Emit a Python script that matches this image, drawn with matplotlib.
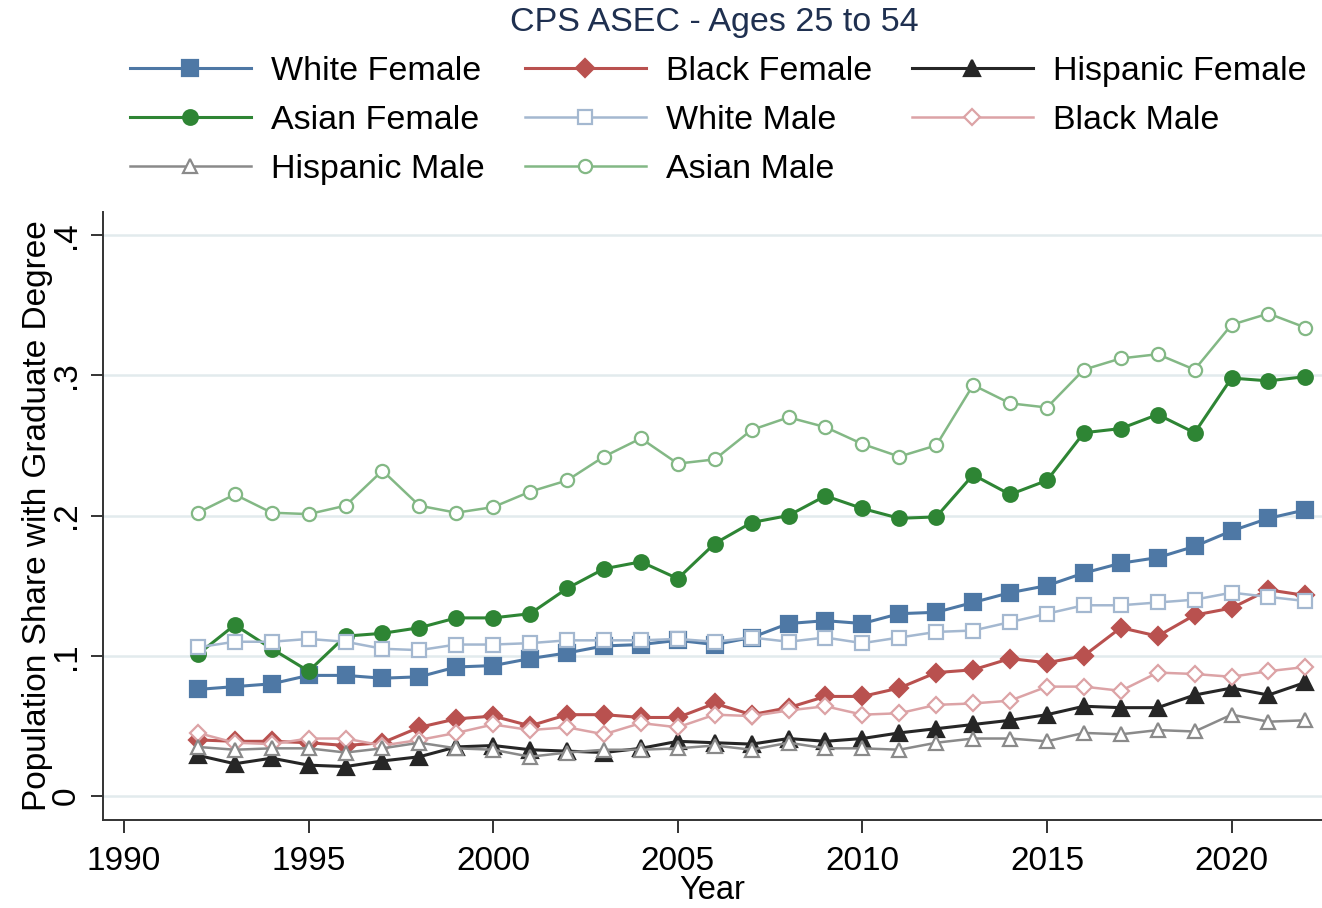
import numpy as np
import matplotlib.pyplot as plt
from matplotlib.ticker import FuncFormatter

plt.rcParams['font.family'] = ['Liberation Sans', 'DejaVu Sans']

years = np.arange(1992, 2023)

white_female = [0.076, 0.078, 0.080, 0.086, 0.086, 0.084, 0.085, 0.092, 0.093, 0.098,
                0.102, 0.107, 0.108, 0.111, 0.108, 0.113, 0.123, 0.125, 0.123, 0.130,
                0.131, 0.138, 0.145, 0.150, 0.159, 0.166, 0.170, 0.178, 0.189, 0.198, 0.204]
black_female = [0.040, 0.039, 0.039, 0.038, 0.036, 0.038, 0.049, 0.055, 0.057, 0.050,
                0.058, 0.058, 0.056, 0.056, 0.066, 0.058, 0.063, 0.071, 0.071, 0.077,
                0.088, 0.090, 0.098, 0.095, 0.100, 0.120, 0.114, 0.129, 0.134, 0.147, 0.143]
hispanic_female = [0.029, 0.023, 0.027, 0.022, 0.021, 0.025, 0.028, 0.035, 0.036, 0.033,
                   0.032, 0.031, 0.034, 0.039, 0.038, 0.037, 0.041, 0.039, 0.041, 0.045,
                   0.048, 0.051, 0.054, 0.058, 0.064, 0.063, 0.063, 0.072, 0.077, 0.072, 0.081]
asian_female = [0.101, 0.122, 0.105, 0.089, 0.114, 0.116, 0.120, 0.127, 0.127, 0.130,
                0.148, 0.162, 0.167, 0.155, 0.180, 0.195, 0.200, 0.214, 0.205, 0.198,
                0.199, 0.229, 0.215, 0.225, 0.259, 0.262, 0.272, 0.259, 0.298, 0.296, 0.299]
white_male = [0.106, 0.110, 0.110, 0.112, 0.110, 0.105, 0.104, 0.108, 0.108, 0.109,
              0.111, 0.111, 0.111, 0.112, 0.110, 0.113, 0.110, 0.113, 0.109, 0.113,
              0.117, 0.118, 0.124, 0.130, 0.136, 0.136, 0.138, 0.140, 0.145, 0.142, 0.139]
black_male = [0.045, 0.038, 0.037, 0.041, 0.041, 0.036, 0.040, 0.045, 0.051, 0.047,
              0.049, 0.044, 0.052, 0.049, 0.058, 0.057, 0.061, 0.064, 0.058, 0.059,
              0.065, 0.066, 0.068, 0.078, 0.078, 0.075, 0.088, 0.087, 0.085, 0.089, 0.092]
hispanic_male = [0.035, 0.033, 0.034, 0.034, 0.031, 0.034, 0.038, 0.034, 0.033, 0.028,
                 0.031, 0.033, 0.033, 0.034, 0.036, 0.033, 0.038, 0.034, 0.034, 0.033,
                 0.038, 0.041, 0.041, 0.039, 0.045, 0.044, 0.047, 0.046, 0.058, 0.053, 0.054]
asian_male = [0.202, 0.215, 0.202, 0.201, 0.207, 0.232, 0.207, 0.202, 0.206, 0.217,
              0.225, 0.242, 0.255, 0.237, 0.240, 0.261, 0.270, 0.263, 0.251, 0.242,
              0.250, 0.293, 0.280, 0.277, 0.304, 0.312, 0.315, 0.304, 0.336, 0.344, 0.334]

# label, values, color, marker, size, filled, line width
series = [
    ('White Female', white_female, '#4e78a5', 's', 11, True, 2.2),
    ('Black Female', black_female, '#b9514f', 'D', 9, True, 2.2),
    ('Hispanic Female', hispanic_female, '#262626', '^', 11, True, 2.2),
    ('Asian Female', asian_female, '#2e8534', 'o', 10.5, True, 2.2),
    ('White Male', white_male, '#a4b8d0', 's', 9.5, False, 1.8),
    ('Black Male', black_male, '#dca3a6', 'D', 8.5, False, 1.8),
    ('Hispanic Male', hispanic_male, '#8a8a8a', '^', 10, False, 1.8),
    ('Asian Male', asian_male, '#83b885', 'o', 9.5, False, 1.8),
]

fig = plt.figure(figsize=(13.22, 9.08), dpi=100)
ax = fig.add_axes([103 / 1322, 88 / 908, 1 - 103 / 1322, 608 / 908])

handles = {}
for label, vals, color, marker, ms, filled, lw in series:
    line, = ax.plot(years, vals, color=color, lw=lw, marker=marker, ms=ms,
                    markerfacecolor=color if filled else 'white',
                    markeredgecolor=color, markeredgewidth=1.6, label=label)
    handles[label] = line

ax.set_xlim(1989.43, 2022.45)
ax.set_ylim(-0.0171, 0.4164)
ax.set_xticks(range(1990, 2021, 5))
ax.set_yticks([0, 0.1, 0.2, 0.3, 0.4])
ax.yaxis.set_major_formatter(FuncFormatter(lambda v, p: '0' if v == 0 else f'{v:.1f}'.lstrip('0')))
ax.grid(axis='y', color='#e2ebed', lw=1.8)
ax.set_axisbelow(True)
for s in ['top', 'right']:
    ax.spines[s].set_visible(False)
for s in ['left', 'bottom']:
    ax.spines[s].set_linewidth(1.4)
    ax.spines[s].set_color('#333333')
ax.tick_params(axis='both', length=9, width=1.4, color='#333333', labelsize=24, pad=6)
ax.tick_params(axis='x', pad=10)
plt.setp(ax.get_yticklabels(), rotation=90, va='center')

ax.set_xlabel('Year', fontsize=23.5, labelpad=-1.5)
ax.set_ylabel('Population Share with Graduate Degree', fontsize=24, labelpad=-1)

fig.text(714 / 1322, 1 - 22 / 908, 'CPS ASEC - Ages 25 to 54', fontsize=24.5,
         color='#1f3050', ha='center', va='center')

# legend laid out row by row, three per row
order = ['White Female', 'Asian Female', 'Hispanic Male',
         'Black Female', 'White Male', 'Asian Male',
         'Hispanic Female', 'Black Male']
fig.legend([handles[k] for k in order], order, loc='upper left',
           bbox_to_anchor=(130 / 1322, 1 - 56 / 908), ncol=3, frameon=False,
           fontsize=24.5, handlelength=3.55, handletextpad=0.6, columnspacing=1.17,
           labelspacing=0.53, borderpad=0, borderaxespad=0)

fig.savefig('out.png', dpi=100)
